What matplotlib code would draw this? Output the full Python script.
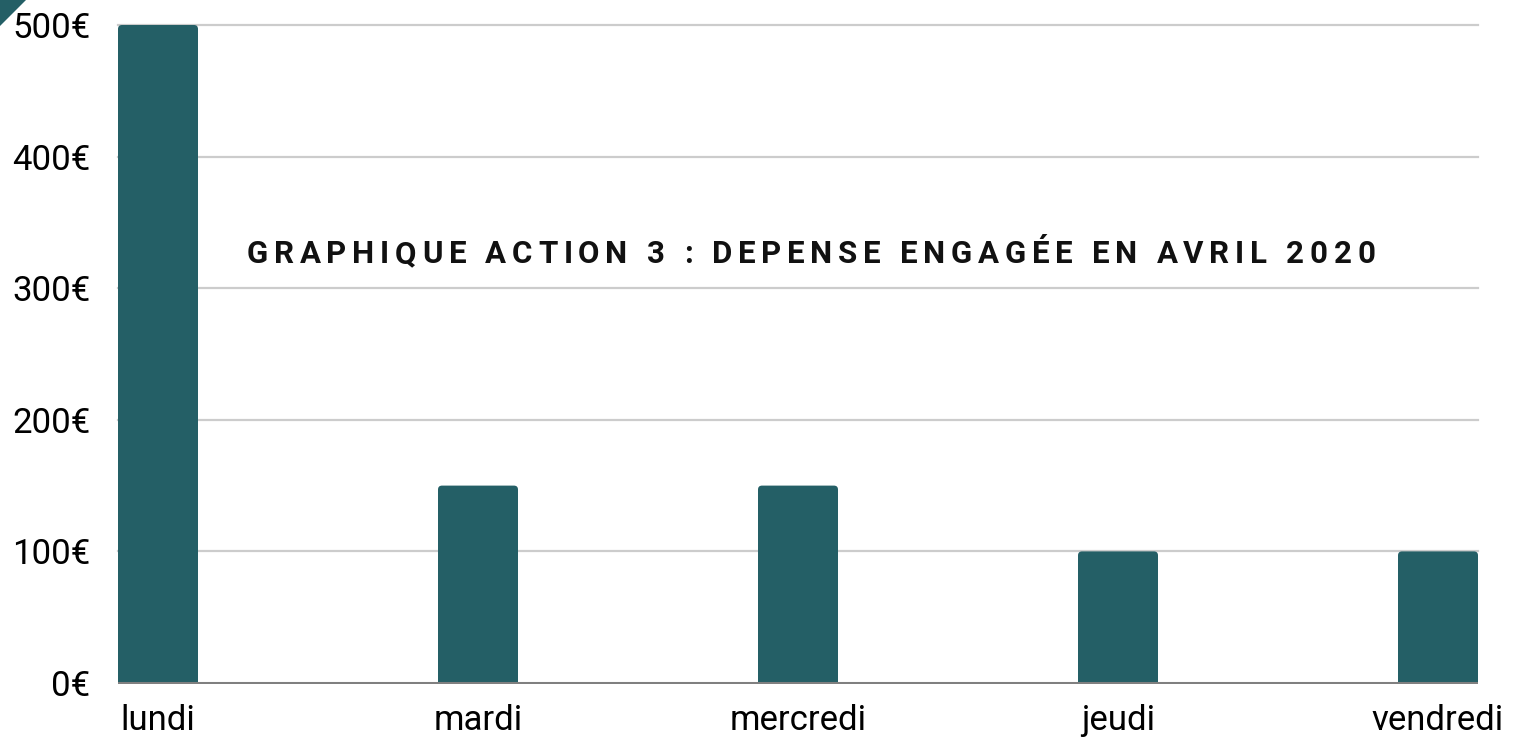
import matplotlib
matplotlib.use("Agg")
import matplotlib.pyplot as plt
from matplotlib.patches import FancyBboxPatch, Polygon
from matplotlib import font_manager
from matplotlib.ft2font import FT2Font

# weekly spend, April 2020
jours = ["lundi", "mardi", "mercredi", "jeudi", "vendredi"]
depenses = [500, 150, 150, 100, 100]
yticks = [0, 100, 200, 300, 400, 500]
ytick_labels = [f"{v}€" for v in yticks]
titre = "GRAPHIQUE ACTION 3 : DEPENSE ENGAGÉE EN AVRIL 2020"

BAR_COLOR = "#245f66"
W, H, DPI = 1520, 740, 100

plt.rcParams["font.family"] = ["Roboto", "DejaVu Sans"]

fig = plt.figure(figsize=(W / DPI, H / DPI), dpi=DPI)

# axes box in pixels (top-down)
left_px, right_px = 118, 1478
zero_px, top_px = 683, 25
ppu = (zero_px - top_px) / 500.0  # pixels per euro
y_lo = -1.2 / ppu
y_hi = 500 + 6 / ppu
ax_bottom = zero_px + 1.2
ax_top = top_px - 6
ax = fig.add_axes([left_px / W, (H - ax_bottom) / H,
                   (right_px - left_px) / W, (ax_bottom - ax_top) / H])

bar_w = 0.25
ax.set_xlim(0, len(jours) - 1 + bar_w)
ax.set_ylim(y_lo, y_hi)

# bars with slightly rounded tops
upx_x = (len(jours) - 1 + bar_w) / (right_px - left_px)
upx_y = 1.0 / ppu
rad = 4
for i, v in enumerate(depenses):
    patch = FancyBboxPatch((i, -rad * upx_y), bar_w, v + rad * upx_y,
                           boxstyle=f"round,pad=0,rounding_size={rad * upx_x}",
                           mutation_aspect=upx_y / upx_x,
                           facecolor=BAR_COLOR, edgecolor="none", zorder=3)
    ax.add_patch(patch)

for v in yticks[1:]:
    ax.axhline(v, color="#cccccc", lw=1.6, zorder=1, clip_on=False)
ax.axhline(0, color="#808080", lw=2.2, zorder=4)

ax.set_yticks(yticks)
ax.set_yticklabels(ytick_labels, fontsize=25)
ax.set_xticks([i + bar_w / 2 for i in range(len(jours))])
ax.set_xticklabels(jours, fontsize=25)
ax.tick_params(axis="y", length=0, pad=20)
ax.tick_params(axis="x", length=0, pad=14.5)
for s in ax.spines.values():
    s.set_visible(False)

# spaced-out title, placed letter by letter
fp = font_manager.FontProperties(family="Roboto", weight="bold")
font = FT2Font(font_manager.findfont(fp))
title_size = 22.5
font.set_size(title_size, DPI)
adv = [font.load_char(ord(c)).linearHoriAdvance / 65536.0 for c in titre]
t_left, t_right, t_mid = 247, 1375, 251
track = (t_right - t_left - sum(adv)) / (len(titre) - 1)
x = t_left
for c, a in zip(titre, adv):
    fig.text(x / W, 1 - t_mid / H, c, fontproperties=fp, fontsize=title_size,
             ha="left", va="center_baseline", color="#111111")
    x += a + track

# corner tab
fig.patches.append(Polygon([[0, 1], [26 / W, 1], [0, 1 - 26 / H]], closed=True,
                           transform=fig.transFigure, facecolor=BAR_COLOR,
                           edgecolor="none"))

fig.savefig("out.png", dpi=DPI)
